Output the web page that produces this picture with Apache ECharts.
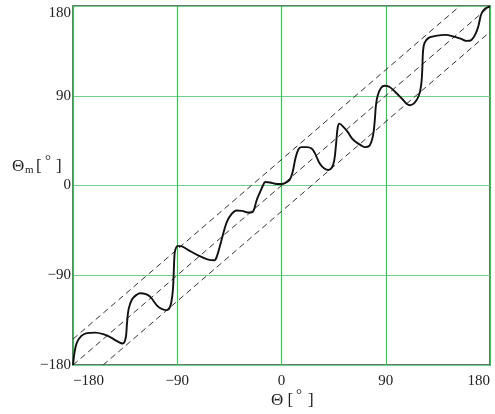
<!DOCTYPE html>
<html>
<head>
<meta charset="utf-8">
<script src="https://cdn.jsdelivr.net/npm/echarts@6/dist/echarts.min.js"></script>
<style>html,body{margin:0;padding:0;background:#fff}#c{width:495px;height:414px}</style>
</head>
<body>
<div id="c"></div>
<script>
// Measured angle Θm versus true angle Θ (degrees)
var thetaX = [-180,-178.5,-176.8,-173,-168,-161,-154,-148,-142,-137,-134.5,-133.5,-132,-129,-125,-122,-117,-113,-107,-103,-99,-96,-94.2,-93.5,-93,-92.5,-91.8,-89.5,-86,-80,-72,-64,-58,-55.5,-53,-50,-47,-43,-39,-34,-29,-26,-24,-21.5,-19,-16,-14,-10,-4,0,4,7,9.5,12,14.5,17,22,26,29,33,37,40.5,43.5,45.5,47,48.5,50,54,57,61,65,69,72,76,79,80.5,81.5,83,86,89,93,98,104,108,111,115,118.5,120.5,121.5,122.2,123.5,127,133,142,148,155,160,164,167.5,170,172.5,175.5,178.5,180];
var thetaM = [-180,-166,-158,-151,-148,-147.5,-149,-152,-156,-158.5,-153,-140,-124,-114,-109.5,-108,-109,-112,-121,-124,-125,-121,-110,-100,-86,-72,-65,-60.5,-61,-65,-70,-74,-75,-70,-60,-47,-36,-28.5,-25,-25.5,-27,-27,-25,-15,-8,0,3.5,3,1.5,1.5,3,5.5,13,27,36,38.5,38.5,37,32,22,17,15.5,18,25,40,58,62,58,54,47,43,40,38.5,40,50,65,80,90,98,100,99,94,87,82,80.5,83,90,100,115,135,143,148,150,151,149.5,147,145,146,152,160,172,177,178.8,179.5];
var xTicks = [-180, -90, 0, 90, 180];
var yTicks = [-180, -90, 0, 90, 180];
var bandOffset = 26; // half-width of the dashed tolerance band (degrees)

var curve = thetaX.map(function (x, i) { return [x, thetaM[i]]; });
var lo = xTicks[0], hi = xTicks[xTicks.length - 1];
var centerLine = [[lo, lo], [hi, hi]];
var upperLine = [[lo, lo + bandOffset], [hi - bandOffset, hi]];
var lowerLine = [[lo + bandOffset, lo], [hi, hi - bandOffset]];

var serif = "'Liberation Serif', 'Times New Roman', serif";
function fmt(v) { return String(v).replace('-', '\u2212'); }

var chart = echarts.init(document.getElementById('c'), null, {renderer: 'canvas'});
var dashStyle = {color: '#333', width: 1, type: [6, 4]};
function txt(left, top, s, size) {
  return {type: 'text', left: left, top: top, style: {text: s, fontFamily: serif, fontSize: size, fill: '#222'}};
}
chart.setOption({
  animation: false,
  backgroundColor: '#fff',
  grid: {left: 73, right: 5, top: 6, bottom: 49, show: true, borderColor: '#2f4d36', borderWidth: 1.5, outerBoundsMode: 'none'},
  xAxis: {
    type: 'value', min: lo, max: hi, interval: 90,
    axisLine: {show: false}, axisTick: {show: false},
    splitLine: {show: true, lineStyle: {color: '#3fbf5e', width: 1.2}},
    axisLabel: {formatter: fmt, fontFamily: serif, fontSize: 15, color: '#222', margin: 9,
      alignMinLabel: 'left', alignMaxLabel: 'right'}
  },
  yAxis: {
    type: 'value', min: lo, max: hi, interval: 90,
    axisLine: {show: false}, axisTick: {show: false},
    splitLine: {show: true, lineStyle: {color: '#6fd08a', width: 1.2}},
    axisLabel: {formatter: fmt, fontFamily: serif, fontSize: 15, color: '#222', margin: 2,
      verticalAlignMaxLabel: 'top'}
  },
  series: [
    {type: 'line', data: centerLine, symbol: 'none', lineStyle: dashStyle, silent: true},
    {type: 'line', data: upperLine, symbol: 'none', lineStyle: dashStyle, silent: true},
    {type: 'line', data: lowerLine, symbol: 'none', lineStyle: dashStyle, silent: true},
    {type: 'line', data: curve, symbol: 'none', smooth: 0.35, lineStyle: {color: '#111', width: 1.9}, z: 5}
  ],
  graphic: [
    txt(271, 392, '\u0398 [', 17),
    txt(296, 388, '\u00b0', 15),
    txt(308, 392, ']', 17),
    txt(12, 158, '\u0398', 17),
    txt(25, 165, 'm', 11),
    txt(36, 158, '[', 17),
    txt(45, 154, '\u00b0', 15),
    txt(56, 158, ']', 17)
  ]
});
</script>
</body>
</html>
